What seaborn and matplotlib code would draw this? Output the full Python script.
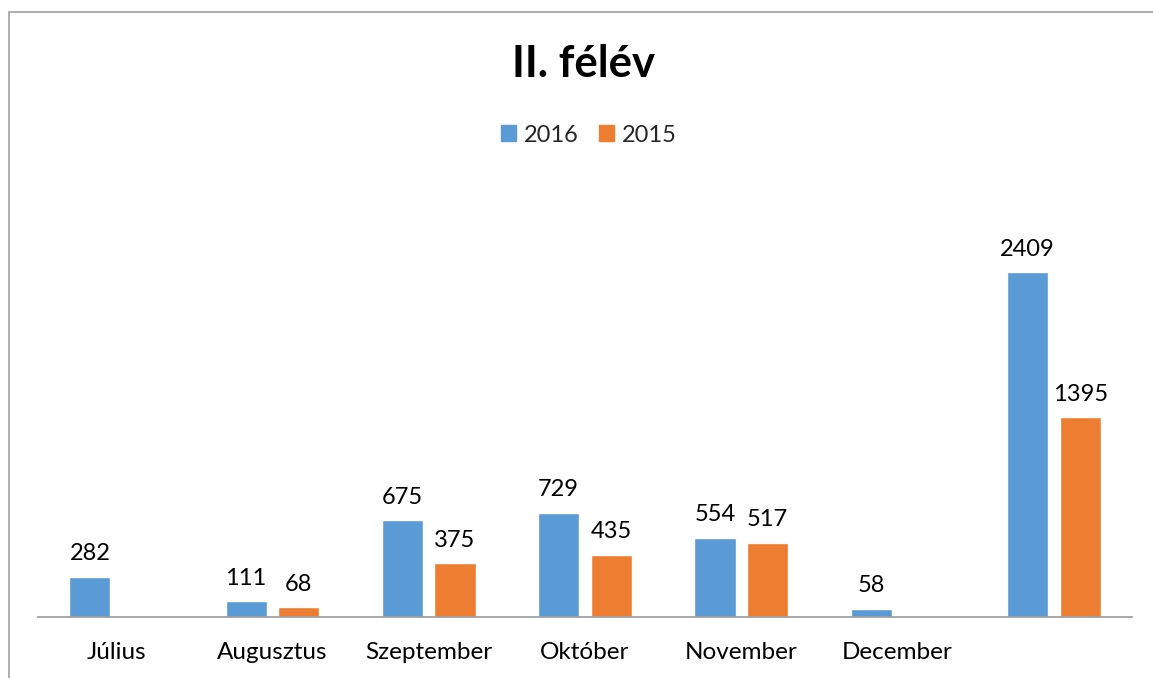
import matplotlib
matplotlib.use("Agg")
import matplotlib.pyplot as plt
import matplotlib.patches as mpatches
import numpy as np
import pandas as pd
import seaborn as sns

# chart data
months = ['Július', 'Augusztus', 'Szeptember', 'Október', 'November', 'December', '']
values_2016 = [282, 111, 675, 729, 554, 58, 2409]
values_2015 = [np.nan, 68, 375, 435, 517, np.nan, 1395]
years = ['2016', '2015']
colors = ['#5B9BD5', '#ED7D31']

df = pd.DataFrame({
    'honap': months * 2,
    'ev': [years[0]] * len(months) + [years[1]] * len(months),
    'ertek': values_2016 + values_2015,
})

sns.set_theme(style='white')
plt.rcParams['font.family'] = ['Lato', 'DejaVu Sans']

fig = plt.figure(figsize=(11.53, 6.78), dpi=100)
ax = fig.add_axes([38 / 1153, 1 - 617 / 678, 1094 / 1153, 0.6336])

sns.barplot(data=df, x='honap', y='ertek', hue='ev', order=months,
            hue_order=years, palette=colors, width=0.673, gap=0.22,
            errorbar=None, saturation=1, ax=ax, legend=False)

for cont in ax.containers:
    labels = ['' if np.isnan(v) else f'{int(v)}' for v in cont.datavalues]
    ax.bar_label(cont, labels=labels, padding=9, fontsize=17, color='#000000')

ax.set_ylim(0, 3000)
ax.set_xlim(-0.5, len(months) - 0.5)
ax.set_xlabel('')
ax.set_ylabel('')
ax.set_yticks([])
ax.tick_params(axis='x', length=0, pad=18, labelsize=17.5, labelcolor='#000000')
for side in ['top', 'left', 'right']:
    ax.spines[side].set_visible(False)
ax.spines['bottom'].set_color('#a0a0a0')
ax.spines['bottom'].set_linewidth(1.3)

# legend
handles = [mpatches.Patch(color=c, label=y) for c, y in zip(colors, years)]
fig.legend(handles=handles, loc='center', bbox_to_anchor=(589 / 1153, 1 - 135 / 678),
           ncol=2, frameon=False, fontsize=17, handlelength=0.64, handleheight=0.64,
           handletextpad=0.34, columnspacing=0.85)

# title
fig.text(584 / 1153, 1 - 77 / 678, 'II. félév', ha='center', va='baseline',
         fontsize=31.5, fontweight='bold', color='#000000')

# chart border (partly cut off at right and bottom)
fig.patches.append(mpatches.Rectangle((8.5 / 1153, -0.1), 1.2, 1.1 - 12.5 / 678,
                                      transform=fig.transFigure, fill=False,
                                      edgecolor='#a0a0a0', linewidth=1.2))

fig.savefig('out.png', dpi=100)
